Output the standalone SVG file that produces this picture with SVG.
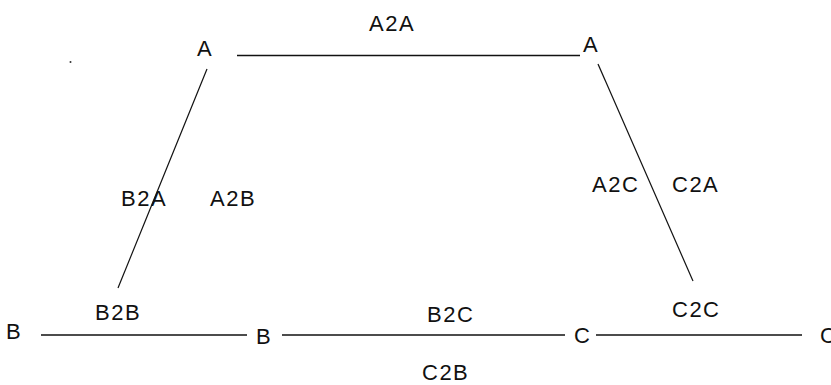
<svg xmlns="http://www.w3.org/2000/svg" width="831" height="385" viewBox="0 0 831 385">
<style>
text{font-family:"Liberation Sans",Arial,sans-serif;font-size:22px;fill:#111;letter-spacing:1.5px}
.c line{stroke:#111;stroke-width:1.5}
.c line.d{stroke-width:1.2}
</style>
<rect width="831" height="385" fill="#fff"/>
<circle cx="70.5" cy="62" r="1" fill="#333"/>
<g id="nodeA1"><text x="197" y="56">A</text></g>
<g id="nodeA2"><text x="583" y="52">A</text></g>
<g id="nodeB1"><text x="6" y="339">B</text></g>
<g id="nodeB2"><text x="256" y="344">B</text></g>
<g id="nodeC1"><text x="574" y="343">C</text></g>
<g id="nodeC2"><text x="820" y="343">C</text></g>
<g id="connectors" class="c">
<line x1="237" y1="55.5" x2="580" y2="55.5"/>
<line class="d" x1="207" y1="69" x2="118" y2="288"/>
<line class="d" x1="598" y1="64" x2="693" y2="281"/>
<line x1="41" y1="335" x2="247" y2="335"/>
<line x1="282" y1="335" x2="565" y2="335"/>
<line x1="596" y1="335" x2="802" y2="335"/>
<text x="369" y="31">A2A</text>
<text x="121" y="206">B2A</text>
<text x="210" y="206">A2B</text>
<text x="95" y="320">B2B</text>
<text x="592" y="192">A2C</text>
<text x="672" y="192">C2A</text>
<text x="672" y="317">C2C</text>
<text x="427" y="322">B2C</text>
<text x="422" y="380">C2B</text>
</g>
</svg>
